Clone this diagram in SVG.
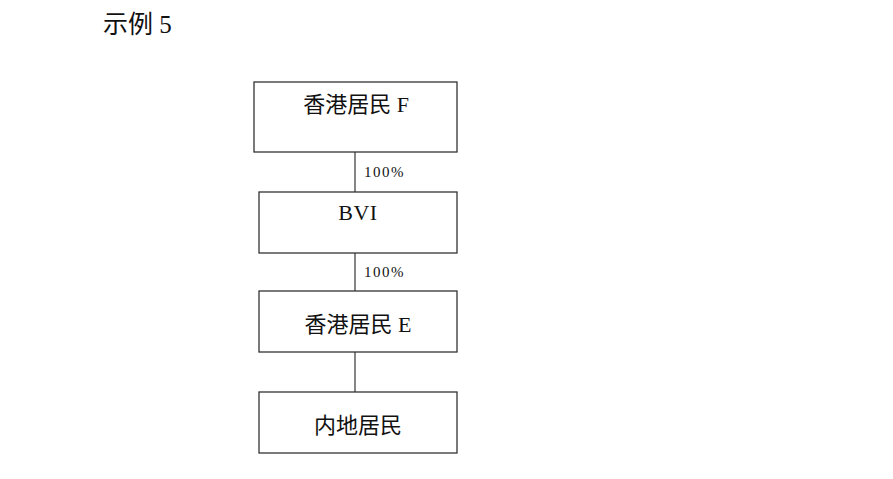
<svg xmlns="http://www.w3.org/2000/svg" width="893" height="479" viewBox="0 0 893 479">
<style>
.box{fill:#fff;stroke:#333;stroke-width:1.3}
.lbl{font-family:"Liberation Serif","Noto Sans CJK SC",serif;font-size:22px;fill:#111;text-anchor:middle}
.pct{font-family:"Liberation Serif",serif;font-size:15px;fill:#111;letter-spacing:1.5px}
.ln{stroke:#444;stroke-width:1.3;fill:none}
</style>
<rect width="893" height="479" fill="#fff"/>
<text x="103" y="33" font-family="'Liberation Serif','Noto Sans CJK SC',serif" font-size="25" fill="#111">示例 5</text>
<g id="connectors">
<line class="ln" x1="355" y1="152" x2="355" y2="192"/>
<line class="ln" x1="355" y1="253" x2="355" y2="291"/>
<line class="ln" x1="355" y1="352" x2="355" y2="392"/>
<text class="pct" x="364" y="177">100%</text>
<text class="pct" x="364" y="277">100%</text>
</g>
<g id="nodeF">
<rect class="box" x="254" y="82" width="203" height="70"/>
<text class="lbl" x="356" y="112">香港居民 F</text>
</g>
<g id="nodeBVI">
<rect class="box" x="259" y="192" width="198" height="61"/>
<text class="lbl" x="358" y="220" font-size="23" letter-spacing="0.5">BVI</text>
</g>
<g id="nodeE">
<rect class="box" x="259" y="291" width="198" height="61"/>
<text class="lbl" x="358" y="332">香港居民 E</text>
</g>
<g id="nodeMainland">
<rect class="box" x="259" y="392" width="198" height="61"/>
<text class="lbl" x="358" y="433">内地居民</text>
</g>
</svg>
